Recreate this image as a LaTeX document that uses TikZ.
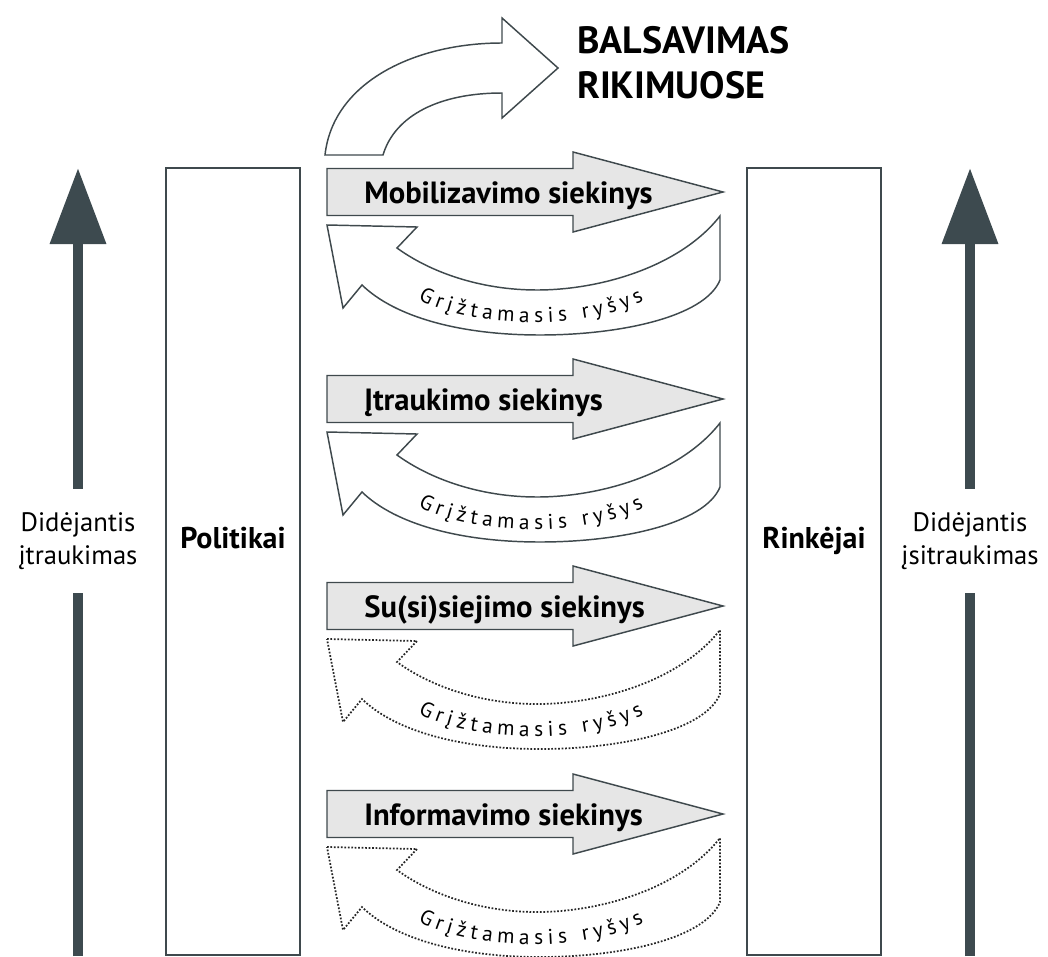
\documentclass[tikz,border=0pt]{standalone}
\usepackage{fontspec}
\setmainfont{PT Sans}
\usetikzlibrary{arrows.meta,decorations.text}

\definecolor{edge}{HTML}{3F494D}
\definecolor{shaft}{HTML}{3D4A4F}
\definecolor{goalfill}{HTML}{E6E6E6}
\newcommand\fbfont{\fontsize{16}{18}\selectfont}

\begin{document}
\begin{tikzpicture}[
		x=0.75pt, y=-0.75pt
		,box/.style={draw=edge, line width=1.5pt}
		,boxlbl/.style={font=\fontsize{22.5}{26}\selectfont\bfseries, anchor=base, inner sep=0pt}
		,sidelbl/.style={font=\fontsize{20}{24.75}\selectfont, align=center, minimum height=78pt, inner sep=0pt}
		,vshaft/.style={draw=shaft, line width=7.5pt}
		,goal/.style={draw=edge, fill=goalfill, line width=1.1pt}
		,goallbl/.style={font=\fontsize{23}{26}\selectfont\bfseries, anchor=base west, inner sep=0pt}
		,fb/.style={draw=edge, fill=white, line width=1.1pt}
		,dotline/.style={draw=black!85, line width=1.3pt, dash pattern=on 1.3pt off 1.3pt}
	]
	\useasboundingbox (0,0) rectangle (1048,956);

	% actors
	\draw[box] (166,168) rectangle (300,955);
	\draw[box] (747,168) rectangle (881,955);
	\node[boxlbl] (pol) at (233,548) {Politikai};
	\node[boxlbl] (rink) at (814,548) {Rinkėjai};

	% side arrows
	\node[sidelbl] (incL) at (78,541) {Didėjantis\\įtraukimas};
	\node[sidelbl] (incR) at (970,541) {Didėjantis\\įsitraukimas};
	\coordinate (botL) at (78,956);
	\coordinate (topL) at (78,168);
	\coordinate (botR) at (970,956);
	\coordinate (topR) at (970,168);
	\draw[vshaft] (botL) -- (incL.south);
	\draw[vshaft, -{Triangle[length=57pt, width=40.5pt]}] (incL.north) -- (topL);
	\draw[vshaft] (botR) -- (incR.south);
	\draw[vshaft, -{Triangle[length=57pt, width=40.5pt]}] (incR.north) -- (topR);

	% voting
	\path[fb] (325,155) .. controls (333,82) and (415,43) .. (502,43) -- (502,18) -- (558,68)
		-- (502,118) -- (502,93) .. controls (440,93) and (395,115) .. (383,155) -- cycle;
	\node[font=\fontsize{28.5}{33.75}\selectfont\bfseries, align=left, anchor=west, inner sep=0pt] (vote) at (577,63) {BALSAVIMAS\\RIKIMUOSE};

	% goals and feedback
	\foreach \cy/\txt/\ln [count=\i] in {192/Mobilizavimo siekinys/solid, 399/Įtraukimo siekinys/solid,
		606/Su(si)siejimo siekinys/dotline, 814/Informavimo siekinys/dotline} {
		\begin{scope}[shift={(0,\cy)}]
			\path[goal] (327,-23.5) -- (573,-23.5) -- (573,-40) -- (723,0) -- (573,40) -- (573,23.5) -- (327,23.5) -- cycle;
			\node[goallbl] (goal\i) at (364,11) {\txt};
			\path[fb, \ln] (327,33) -- (417,35) -- (397,56) .. controls (430,80) and (480,98) .. (537,98)
				.. controls (600,98) and (680,75) .. (720,24) -- (720,88)
				.. controls (705,125) and (620,143) .. (540,143) .. controls (460,143) and (395,125) .. (362,93)
				-- (343,116) -- cycle;
			\path[decorate, decoration={text along path, text align=fit to path,
				text={|\fbfont|Grįžtamasis ryšys}}] (418,107) .. controls (470,138) and (590,138) .. (644,108);
		\end{scope}
	}
\end{tikzpicture}
\end{document}
